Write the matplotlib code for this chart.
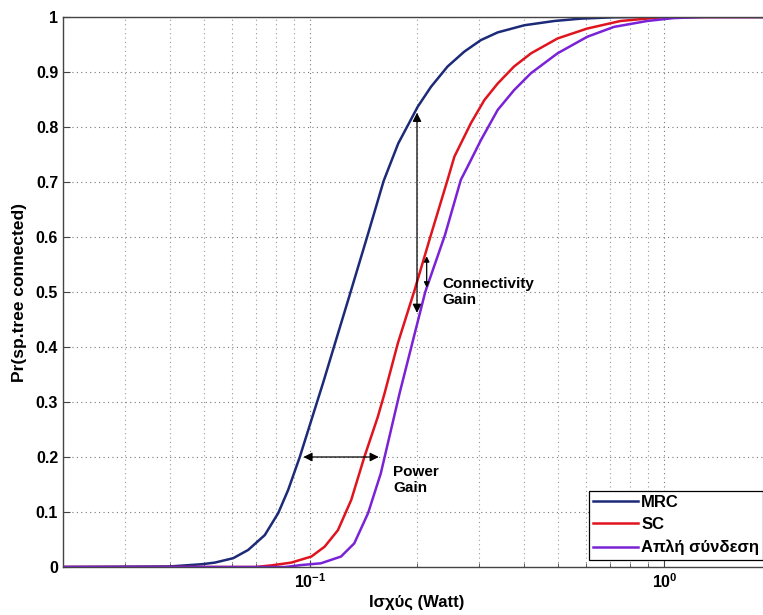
import matplotlib
matplotlib.use("Agg")
import matplotlib.pyplot as plt
from matplotlib.ticker import LogLocator, NullFormatter, FixedLocator

plt.rcParams['font.family'] = ['Liberation Sans', 'DejaVu Sans']
plt.rcParams['font.weight'] = 'bold'
plt.rcParams['mathtext.fontset'] = 'custom'
plt.rcParams['mathtext.bf'] = 'Liberation Sans:bold'
plt.rcParams['mathtext.rm'] = 'Liberation Sans:bold'

# Transmit power (W) and probability that the spanning tree is connected
mrc_x = [0.02, 0.04, 0.0493, 0.0537, 0.0605, 0.0667, 0.0743, 0.0811, 0.0865,
         0.0933, 0.1006, 0.1086, 0.117, 0.129, 0.1455, 0.161, 0.177, 0.201,
         0.219, 0.244, 0.272, 0.303, 0.338, 0.402, 0.488, 0.58, 0.72, 0.9, 2.0]
mrc_y = [0.0, 0.001, 0.005, 0.008, 0.016, 0.031, 0.058, 0.098, 0.14,
         0.2, 0.267, 0.335, 0.404, 0.494, 0.606, 0.702, 0.770, 0.837,
         0.873, 0.910, 0.937, 0.958, 0.972, 0.985, 0.9927, 0.997, 0.9995, 1.0, 1.0]

sc_x = [0.02, 0.07, 0.0777, 0.0883, 0.1006, 0.1097, 0.1196, 0.1304, 0.142,
        0.155, 0.162, 0.1766, 0.197, 0.219, 0.244, 0.255, 0.284, 0.310,
        0.338, 0.376, 0.420, 0.499, 0.605, 0.751, 1.0, 2.0]
sc_y = [0.0, 0.0, 0.003, 0.008, 0.019, 0.037, 0.067, 0.122, 0.2,
        0.273, 0.316, 0.407, 0.504, 0.604, 0.704, 0.746, 0.807, 0.849,
        0.879, 0.910, 0.934, 0.961, 0.979, 0.9927, 1.0, 1.0]

simple_x = [0.02, 0.085, 0.0944, 0.107, 0.122, 0.133, 0.1455, 0.158, 0.1786,
            0.211, 0.240, 0.266, 0.278, 0.303, 0.338, 0.376, 0.420, 0.499,
            0.605, 0.72, 0.893, 1.06, 1.3, 2.0]
simple_y = [0.0, 0.0, 0.0036, 0.0067, 0.019, 0.043, 0.098, 0.170, 0.316,
            0.5, 0.604, 0.704, 0.728, 0.776, 0.831, 0.867, 0.898, 0.934,
            0.964, 0.982, 0.9927, 0.998, 1.0, 1.0]

labels = ['MRC', 'SC', 'Απλή σύνδεση']
colors = ['#1c2a78', '#e0141e', '#7a22d6']

y_ticks = [0, 0.1, 0.2, 0.3, 0.4, 0.5, 0.6, 0.7, 0.8, 0.9, 1.0]
y_tick_labels = ['0', '0.1', '0.2', '0.3', '0.4', '0.5', '0.6', '0.7', '0.8', '0.9', '1']
x_ticks = [0.1, 1.0]
x_tick_labels = [r'$\mathbf{10^{-1}}$', r'$\mathbf{10^{0}}$']

fig = plt.figure(figsize=(7.63, 6.15), dpi=100)
ax = fig.add_axes([63 / 763, 48 / 615, (771 - 63) / 763, 550 / 615])

for xs, ys, lab, col in zip([mrc_x, sc_x, simple_x], [mrc_y, sc_y, simple_y], labels, colors):
    ax.plot(xs, ys, color=col, lw=1.8, label=lab, solid_joinstyle='round')

ax.set_xscale('log')
ax.set_xlim(0.02, 2.0)
ax.set_ylim(0, 1)

ax.xaxis.set_major_locator(FixedLocator(x_ticks))
ax.set_xticklabels(x_tick_labels)
ax.xaxis.set_minor_locator(LogLocator(base=10, subs=range(2, 10), numticks=20))
ax.xaxis.set_minor_formatter(NullFormatter())
ax.set_yticks(y_ticks)
ax.set_yticklabels(y_tick_labels)

ax.tick_params(which='both', direction='in', top=False, right=False,
               labelsize=11.5, color='#444444')
ax.tick_params(which='major', length=5)
ax.tick_params(which='minor', length=3)

ax.grid(True, which='major', axis='both', linestyle=(0, (1, 3)), color='#777777', lw=0.8)
ax.grid(True, which='minor', axis='x', linestyle=(0, (1, 3)), color='#999999', lw=0.8)

for s in ax.spines.values():
    s.set_color('#444444')
    s.set_linewidth(1.0)

ax.set_xlabel('Ισχύς (Watt)', fontsize=12, fontweight='bold', labelpad=3)
ax.set_ylabel('Pr(sp.tree connected)', fontsize=12.5, fontweight='bold', labelpad=6)

# Power gain at Pr = 0.2
arrow_kw = dict(arrowstyle='<|-|>', color='black', lw=0.9, mutation_scale=13,
                shrinkA=0, shrinkB=0)
ax.annotate('', xy=(0.0955, 0.2), xytext=(0.156, 0.2), arrowprops=arrow_kw)
ax.text(0.171, 0.158, 'Power\nGain', fontsize=11, fontweight='bold',
        va='center', ha='left', linespacing=1.15)

# Connectivity gain at P = 0.2 W
ax.annotate('', xy=(0.2, 0.462), xytext=(0.2, 0.826), arrowprops=arrow_kw)
ax.annotate('', xy=(0.213, 0.508), xytext=(0.213, 0.565),
            arrowprops=dict(arrowstyle='<|-|>', color='black', lw=0.9,
                            mutation_scale=8, shrinkA=0, shrinkB=0))
ax.text(0.236, 0.5, 'Connectivity\nGain', fontsize=11, fontweight='bold',
        va='center', ha='left', linespacing=1.15)

leg = ax.legend(loc='lower right', fontsize=12, frameon=True, fancybox=False,
                edgecolor='black', framealpha=1, handlelength=2.7,
                handletextpad=0.2, borderaxespad=0.45, borderpad=0.25,
                labelspacing=0.45)
leg.get_frame().set_linewidth(0.9)

fig.savefig('out.png', dpi=100)
